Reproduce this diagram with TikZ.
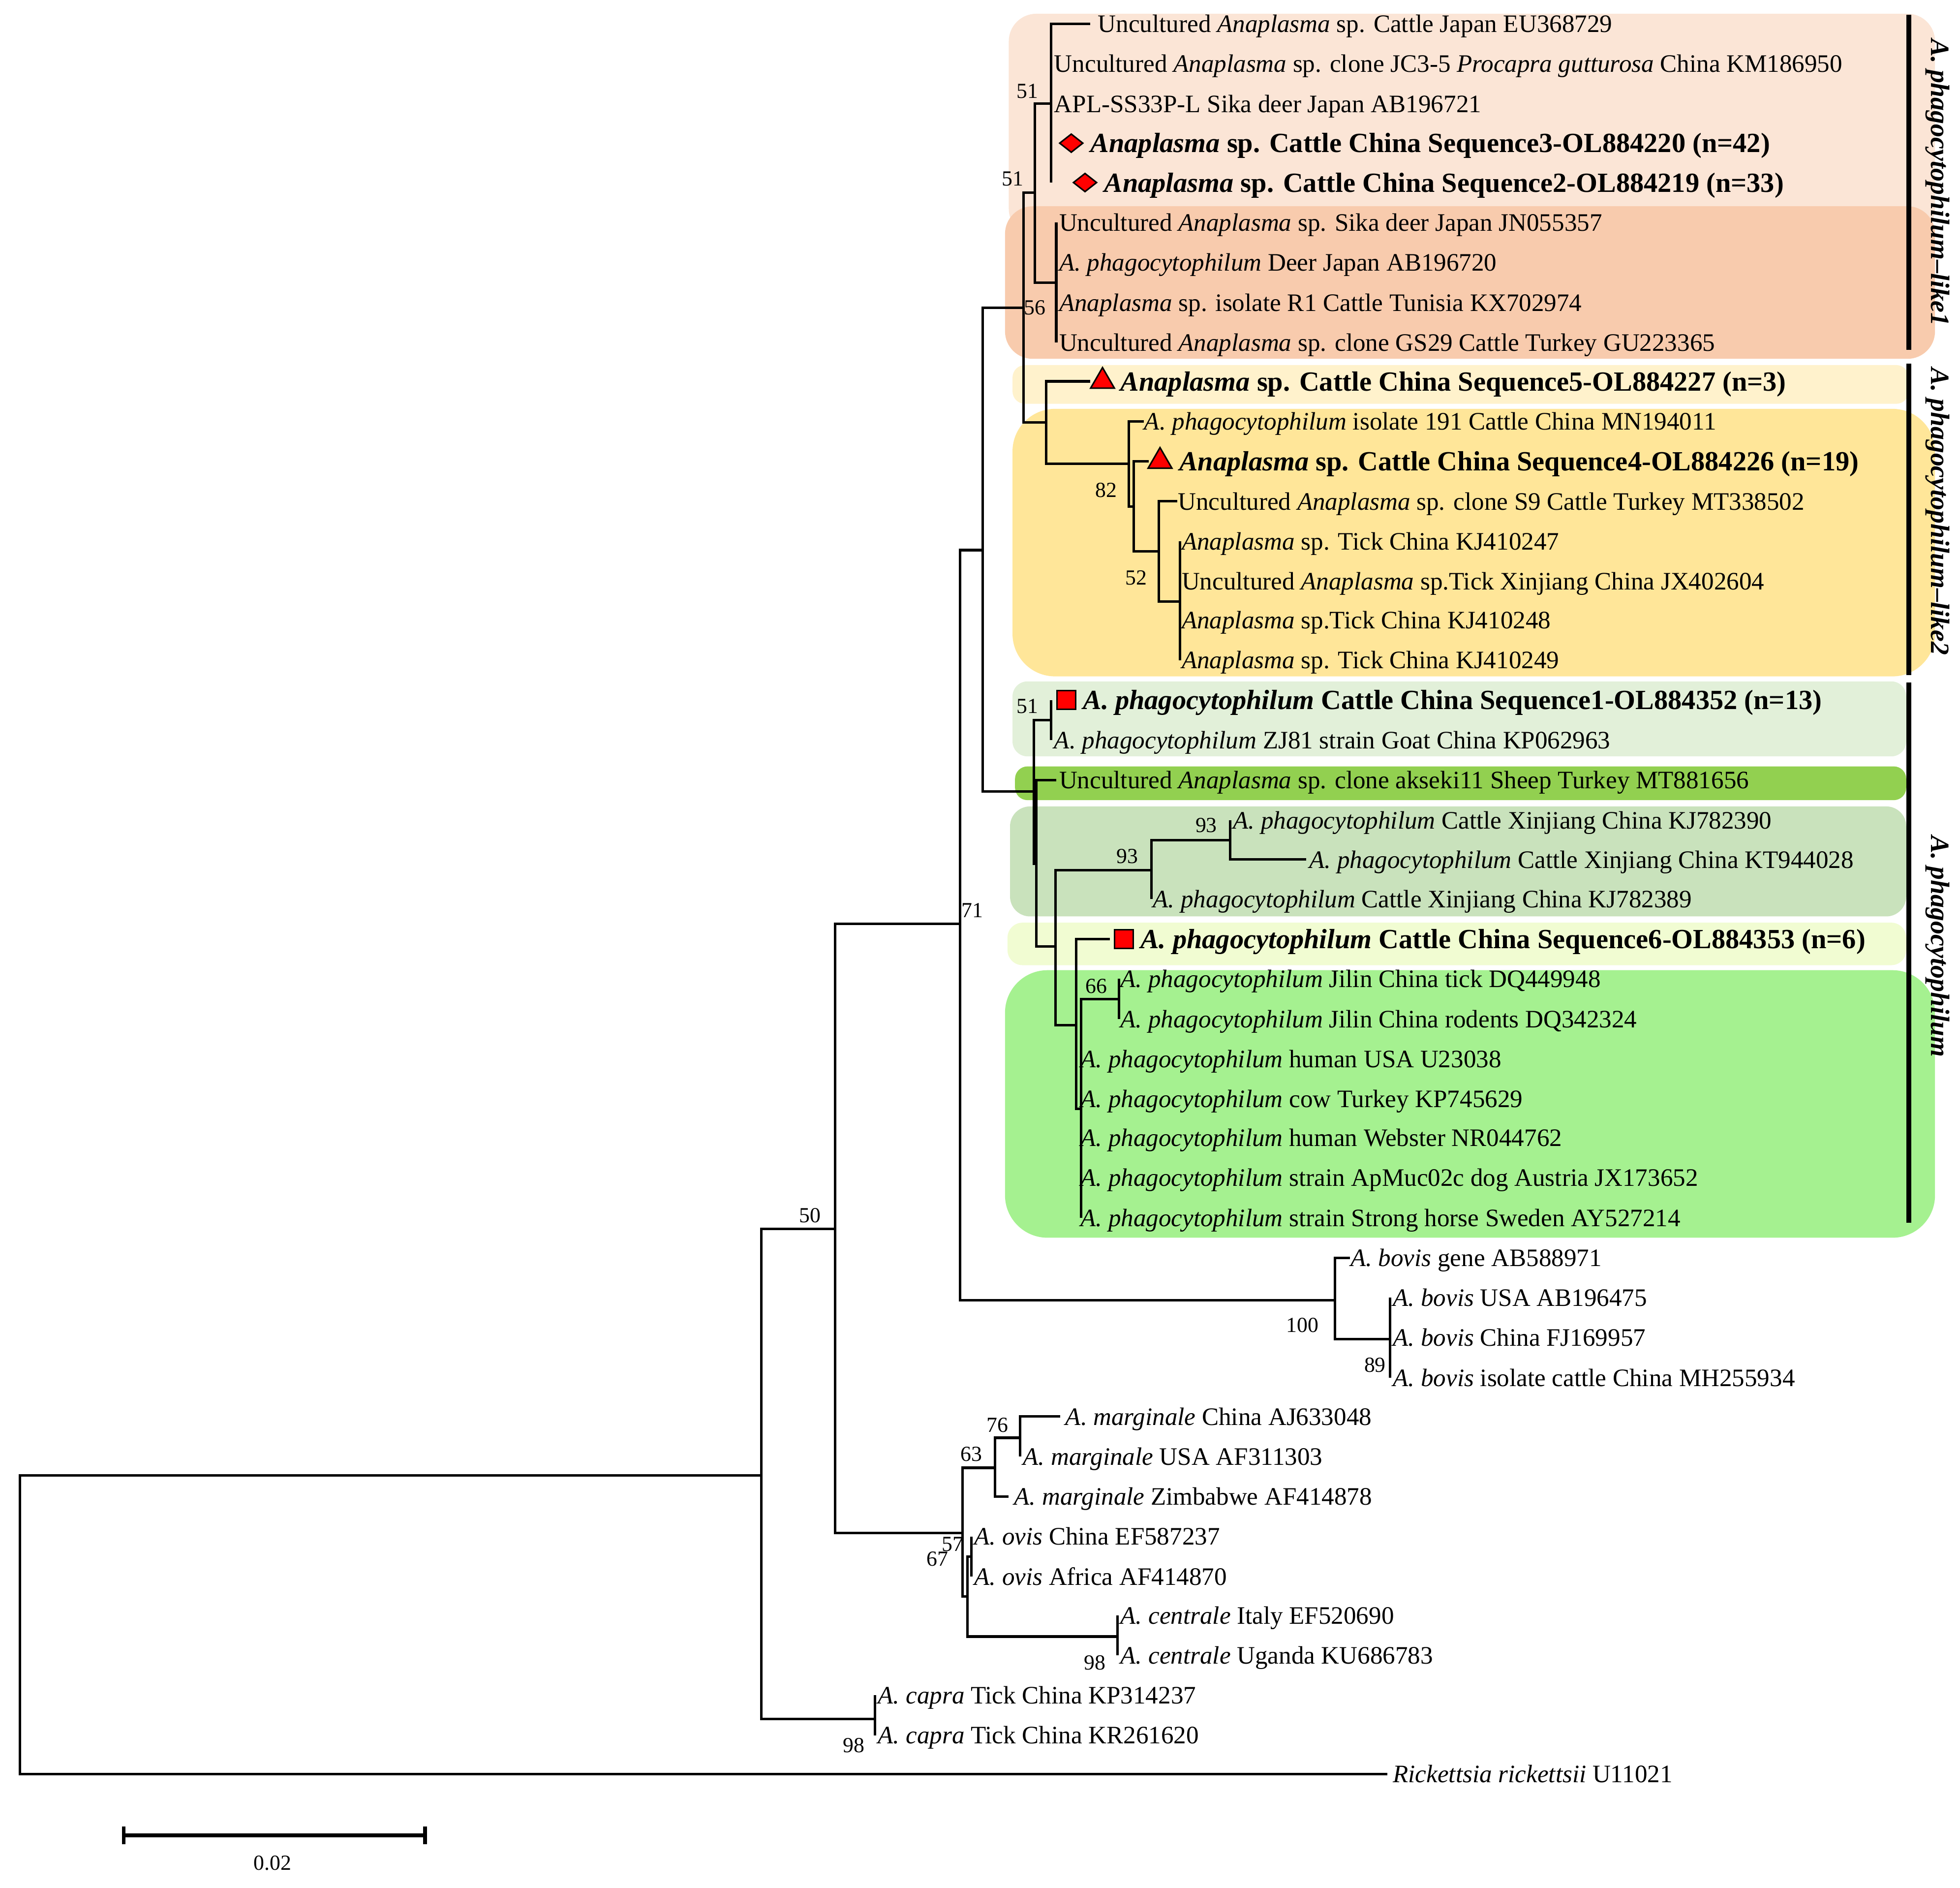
\documentclass[tikz,border=0pt]{standalone}
\usepackage{fontspec}
\setmainfont{Liberation Serif}
\usetikzlibrary{shapes.geometric}
\definecolor{bA}{HTML}{FBE5D6}
\definecolor{bB}{HTML}{F8CBAD}
\definecolor{bC}{HTML}{FFF2CC}
\definecolor{bD}{HTML}{FFE699}
\definecolor{bE}{HTML}{E2F0D9}
\definecolor{bF}{HTML}{92D050}
\definecolor{bG}{HTML}{C9E2BC}
\definecolor{bH}{HTML}{F1FCD2}
\definecolor{bI}{HTML}{A5F190}
\begin{document}
\begin{tikzpicture}[x=0.5pt,y=-0.5pt,
  br/.style={line width=1pt},
  lf/.style={anchor=base west,inner sep=0pt,yshift=-3.4pt,font=\fontsize{10.05}{11}\selectfont},
  lb/.style={lf,font=\fontsize{11.1}{12}\selectfont\bfseries,yshift=-0.35pt},
  bs/.style={inner sep=0pt,font=\fontsize{8.6}{9}\selectfont},
  box/.style={rounded corners=11pt},
  dia/.style={diamond,fill=red,draw=black,line width=0.6pt,minimum width=9.5pt,minimum height=7.5pt,inner sep=0pt},
  tri/.style={regular polygon,regular polygon sides=3,fill=red,draw=black,line width=0.6pt,minimum size=11pt,inner sep=0pt},
  sq/.style={rectangle,fill=red,draw=black,line width=0.6pt,minimum width=7.5pt,minimum height=7.5pt,inner sep=0pt},
  clade/.style={font=\fontsize{10.6}{12}\selectfont\bfseries\itshape,rotate=-90,inner sep=0pt}]
\useasboundingbox (0,0) rectangle (1568,1510);
% boxes
\fill[bA,box] (807,11) rectangle (1548,189);
\fill[bB,box] (804,165) rectangle (1548,287);
\fill[bC,rounded corners=5pt] (810,292) rectangle (1527,323);
\fill[bD,rounded corners=17pt] (810,327) rectangle (1548,541);
\fill[bE,rounded corners=6pt] (810,545) rectangle (1525,605);
\fill[bF,rounded corners=5pt] (812,613) rectangle (1525,640);
\fill[bG,rounded corners=8pt] (808,645) rectangle (1525,733);
\fill[bH,rounded corners=6pt] (806,738) rectangle (1525,772);
\fill[bI,rounded corners=17pt] (804,776) rectangle (1548,990);
% brackets
\draw[line width=2pt] (1527,12) -- (1527,280);
\draw[line width=2pt] (1527,291) -- (1527,540);
\draw[line width=2pt] (1527,546) -- (1527,978);
\node[clade] (c1) at (1550,146) {A. phagocytophilum\textup{–}like1};
\node[clade] (c2) at (1550,409) {A. phagocytophilum\textup{–}like2};
\node[clade] (c3) at (1550,757) {A. phagocytophilum};
% internal nodes
\coordinate (R) at (16,1300);
\coordinate (N609) at (609,1180);
\coordinate (N668) at (668,983);
\coordinate (Ncap) at (700,1375);
\coordinate (N768) at (768,739);
\coordinate (N770) at (770,1226);
\coordinate (N786) at (786,440);
\coordinate (N1068) at (1068,1040);
\coordinate (N819) at (819,246);
\coordinate (N827) at (827,633);
\coordinate (N828) at (828,154);
\coordinate (N837) at (837,338);
\coordinate (N841) at (841,83);
\coordinate (N845) at (845,226);
\coordinate (N903) at (903,371);
\coordinate (N907) at (907,405);
\coordinate (N927) at (927,441);
\coordinate (N944) at (944,481);
\coordinate (N841b) at (841,576);
\coordinate (N829) at (829,691);
\coordinate (N844) at (844.5,757);
\coordinate (N921) at (921,696);
\coordinate (N984) at (984,672);
\coordinate (N861) at (861,820);
\coordinate (N865) at (865,887);
\coordinate (N895) at (895,799);
\coordinate (N1112) at (1112,1071);
\coordinate (N796) at (796,1174);
\coordinate (N816) at (816,1150);
\coordinate (N774) at (774,1277);
\coordinate (N777) at (777,1245);
\coordinate (N894) at (894,1309);
% leaf tips
\coordinate (t0) at (872,19);
\coordinate (t4) at (841,146);
\coordinate (t5) at (845,178);
\coordinate (t8) at (845,274);
\coordinate (t9) at (872,305);
\coordinate (t10) at (915,337);
\coordinate (t11) at (919,369);
\coordinate (t12) at (942,401);
\coordinate (t13) at (944,433);
\coordinate (t16) at (944,528);
\coordinate (t17) at (841,560);
\coordinate (t18) at (841,592);
\coordinate (t19) at (845,624);
\coordinate (t20) at (984,656);
\coordinate (t21) at (1045,687.5);
\coordinate (t22) at (921,719);
\coordinate (t23) at (888,751);
\coordinate (t24) at (895,783);
\coordinate (t25) at (895,815);
\coordinate (t26) at (865,847);
\coordinate (t30) at (865,974);
\coordinate (t31) at (1080,1006);
\coordinate (t32) at (1112,1038);
\coordinate (t34) at (1112,1102);
\coordinate (t35) at (848,1133);
\coordinate (t36) at (816,1165);
\coordinate (t37) at (807,1197);
\coordinate (t38) at (777,1229);
\coordinate (t39) at (777,1261);
\coordinate (t40) at (894,1292);
\coordinate (t41) at (894,1324);
\coordinate (t42) at (700,1356);
\coordinate (t43) at (700,1388);
\coordinate (t44) at (1110,1419);
% branches
\draw[br] (R) |- (N609); \draw[br] (R) |- (t44);
\draw[br] (N609) |- (N668); \draw[br] (N609) |- (Ncap);
\draw[br] (Ncap) |- (t42); \draw[br] (Ncap) |- (t43);
\draw[br] (N668) |- (N768); \draw[br] (N668) |- (N770);
\draw[br] (N768) |- (N786); \draw[br] (N768) |- (N1068);
\draw[br] (N786) |- (N819); \draw[br] (N786) |- (N827);
\draw[br] (N819) |- (N828); \draw[br] (N819) |- (N837);
\draw[br] (N828) |- (N841); \draw[br] (N828) |- (N845);
\draw[br] (N841) |- (t0); \draw[br] (N841) |- (t4);
\draw[br] (N845) |- (t5); \draw[br] (N845) |- (t8);
\draw[br] (N837) |- (t9); \draw[br] (N837) |- (N903);
\draw[br] (N903) |- (t10); \draw[br] (N903) |- (N907);
\draw[br] (N907) |- (t11); \draw[br] (N907) |- (N927);
\draw[br] (N927) |- (t12); \draw[br] (N927) |- (N944);
\draw[br] (N944) |- (t13); \draw[br] (N944) |- (t16);
\draw[br] (N827) |- (N841b); \draw[br] (N827) |- (N829);
\draw[br] (N841b) |- (t17); \draw[br] (N841b) |- (t18);
\draw[br] (N829) |- (t19); \draw[br] (N829) |- (N844);
\draw[br] (N844) |- (N921); \draw[br] (N844) |- (N861);
\draw[br] (N921) |- (N984); \draw[br] (N921) |- (t22);
\draw[br] (N984) |- (t20); \draw[br] (N984) |- (t21);
\draw[br] (N861) |- (t23); \draw[br] (N861) |- (N865);
\draw[br] (N865) |- (N895); \draw[br] (N865) |- (t26); \draw[br] (N865) |- (t30);
\draw[br] (N895) |- (t24); \draw[br] (N895) |- (t25);
\draw[br] (N1068) |- (t31); \draw[br] (N1068) |- (N1112);
\draw[br] (N1112) |- (t32); \draw[br] (N1112) |- (t34);
\draw[br] (N770) |- (N796); \draw[br] (N770) |- (N774);
\draw[br] (N796) |- (N816); \draw[br] (N796) |- (t37);
\draw[br] (N816) |- (t35); \draw[br] (N816) |- (t36);
\draw[br] (N774) |- (N777); \draw[br] (N774) |- (N894);
\draw[br] (N777) |- (t38); \draw[br] (N777) |- (t39);
\draw[br] (N894) |- (t40); \draw[br] (N894) |- (t41);
% markers
\node[dia] (m3) at (857,114.5) {};
\node[dia] (m4) at (868,146) {};
\node[tri] (m9) at (882,305) {};
\node[tri] (m11) at (928,369) {};
\node[sq] (m17) at (853,560) {};
\node[sq] (m23) at (899,751) {};
% leaves
\node[lf] (L0) at (878,19) {Uncultured \textit{Anaplasma} sp. Cattle Japan EU368729};
\node[lf] (L1) at (843,51) {Uncultured \textit{Anaplasma} sp. clone JC3-5 \textit{Procapra gutturosa} China KM186950};
\node[lf] (L2) at (843,83) {APL-SS33P-L Sika deer Japan AB196721};
\node[lb] (L3) at (872,114.5) {\textit{Anaplasma} sp. Cattle China Sequence3-OL884220 (n=42)};
\node[lb] (L4) at (883,146) {\textit{Anaplasma} sp. Cattle China Sequence2-OL884219 (n=33)};
\node[lf] (L5) at (847,178) {Uncultured \textit{Anaplasma} sp. Sika deer Japan JN055357};
\node[lf] (L6) at (847,210) {\textit{A. phagocytophilum} Deer Japan AB196720};
\node[lf] (L7) at (847,242) {\textit{Anaplasma} sp. isolate R1 Cattle Tunisia KX702974};
\node[lf] (L8) at (847,274) {Uncultured \textit{Anaplasma} sp. clone GS29 Cattle Turkey GU223365};
\node[lb] (L9) at (896,305) {\textit{Anaplasma} sp. Cattle China Sequence5-OL884227 (n=3)};
\node[lf] (L10) at (915,337) {\textit{A. phagocytophilum} isolate 191 Cattle China MN194011};
\node[lb] (L11) at (943,369) {\textit{Anaplasma} sp. Cattle China Sequence4-OL884226 (n=19)};
\node[lf] (L12) at (942,401) {Uncultured \textit{Anaplasma} sp. clone S9 Cattle Turkey MT338502};
\node[lf] (L13) at (945,433) {\textit{Anaplasma} sp. Tick China KJ410247};
\node[lf] (L14) at (945,465) {Uncultured \textit{Anaplasma} sp.Tick Xinjiang China JX402604};
\node[lf] (L15) at (945,496) {\textit{Anaplasma} sp.Tick China KJ410248};
\node[lf] (L16) at (945,528) {\textit{Anaplasma} sp. Tick China KJ410249};
\node[lb] (L17) at (866,560) {\textit{A. phagocytophilum} Cattle China Sequence1-OL884352 (n=13)};
\node[lf] (L18) at (843,592) {\textit{A. phagocytophilum} ZJ81 strain Goat China KP062963};
\node[lf] (L19) at (847,624) {Uncultured \textit{Anaplasma} sp. clone akseki11 Sheep Turkey MT881656};
\node[lf] (L20) at (986,656) {\textit{A. phagocytophilum} Cattle Xinjiang China KJ782390};
\node[lf] (L21) at (1047,687.5) {\textit{A. phagocytophilum} Cattle Xinjiang China KT944028};
\node[lf] (L22) at (922,719) {\textit{A. phagocytophilum} Cattle Xinjiang China KJ782389};
\node[lb] (L23) at (912,751) {\textit{A. phagocytophilum} Cattle China Sequence6-OL884353 (n=6)};
\node[lf] (L24) at (896,783) {\textit{A. phagocytophilum} Jilin China tick DQ449948};
\node[lf] (L25) at (896,815) {\textit{A. phagocytophilum} Jilin China rodents DQ342324};
\node[lf] (L26) at (864,847) {\textit{A. phagocytophilum} human USA U23038};
\node[lf] (L27) at (864,879) {\textit{A. phagocytophilum} cow Turkey KP745629};
\node[lf] (L28) at (864,910) {\textit{A. phagocytophilum} human Webster NR044762};
\node[lf] (L29) at (864,942) {\textit{A. phagocytophilum} strain ApMuc02c dog Austria JX173652};
\node[lf] (L30) at (864,974) {\textit{A. phagocytophilum} strain Strong horse Sweden AY527214};
\node[lf] (L31) at (1080,1006) {\textit{A. bovis} gene AB588971};
\node[lf] (L32) at (1114,1038) {\textit{A. bovis} USA AB196475};
\node[lf] (L33) at (1114,1070) {\textit{A. bovis} China FJ169957};
\node[lf] (L34) at (1114,1102) {\textit{A. bovis} isolate cattle China MH255934};
\node[lf] (L35) at (852,1133) {\textit{A. marginale} China AJ633048};
\node[lf] (L36) at (818,1165) {\textit{A. marginale} USA AF311303};
\node[lf] (L37) at (811,1197) {\textit{A. marginale} Zimbabwe AF414878};
\node[lf] (L38) at (779,1229) {\textit{A. ovis} China EF587237};
\node[lf] (L39) at (779,1261) {\textit{A. ovis} Africa AF414870};
\node[lf] (L40) at (896,1292) {\textit{A. centrale} Italy EF520690};
\node[lf] (L41) at (896,1324) {\textit{A. centrale} Uganda KU686783};
\node[lf] (L42) at (702,1356) {\textit{A. capra} Tick China KP314237};
\node[lf] (L43) at (702,1388) {\textit{A. capra} Tick China KR261620};
\node[lf] (L44) at (1114,1419) {\textit{Rickettsia rickettsii} U11021};
% bootstrap values
\node[bs] (b1) at (822,73) {51};
\node[bs] (b2) at (810,143) {51};
\node[bs] (b3) at (828,246) {56};
\node[bs] (b4) at (885,392) {82};
\node[bs] (b5) at (909,462) {52};
\node[bs] (b6) at (822,565) {51};
\node[bs] (b7) at (902,685) {93};
\node[bs] (b8) at (965,660) {93};
\node[bs] (b9) at (877,789) {66};
\node[bs] (b10) at (778,728) {71};
\node[bs] (b11) at (648,972) {50};
\node[bs] (b12) at (1042,1060) {100};
\node[bs] (b13) at (1100,1092) {89};
\node[bs] (b14) at (798,1140) {76};
\node[bs] (b15) at (777,1163) {63};
\node[bs] (b16) at (762,1235) {57};
\node[bs] (b17) at (750,1247) {67};
\node[bs] (b18) at (876,1330) {98};
\node[bs] (b19) at (683,1396) {98};
% scale bar
\coordinate (s1) at (99,1468);
\coordinate (s2) at (340,1468);
\draw[line width=1.5pt] (s1) -- (s2);
\draw[line width=1.5pt] ([yshift=3.5pt]s1) -- ([yshift=-3.5pt]s1);
\draw[line width=1.5pt] ([yshift=3.5pt]s2) -- ([yshift=-3.5pt]s2);
\node[bs] (sl) at (218,1490) {0.02};
\end{tikzpicture}
\end{document}
